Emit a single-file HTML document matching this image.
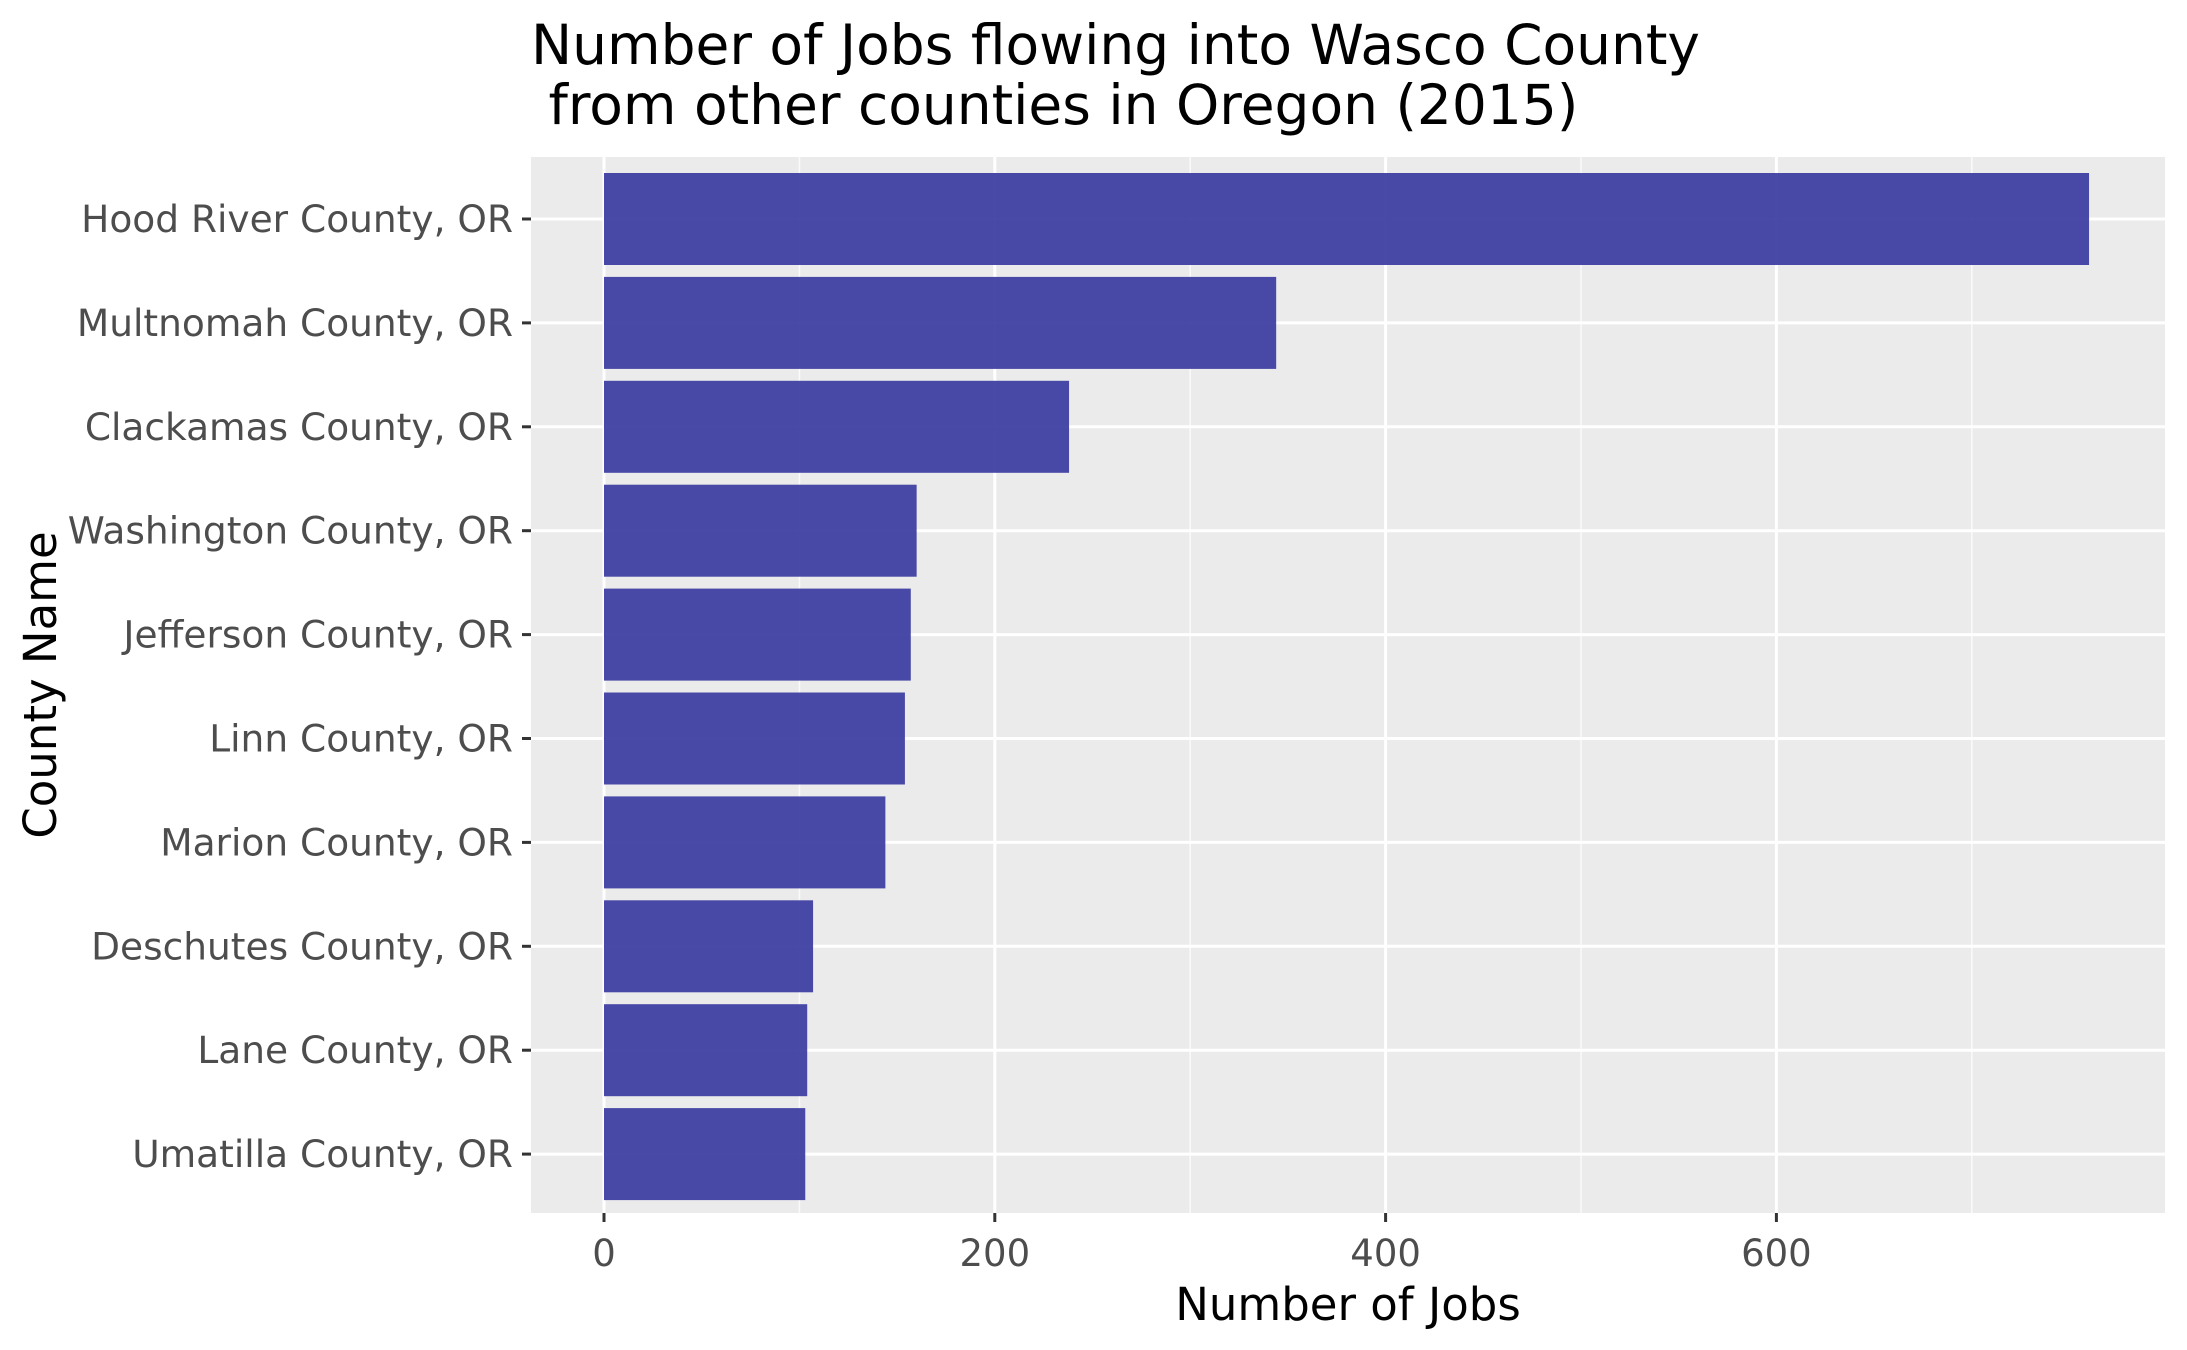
<!DOCTYPE html>
<html><head><meta charset="utf-8"><style>
body{margin:0;background:#fff}
svg{display:block;font-family:"DejaVu Sans","Liberation Sans",sans-serif}
</style></head><body>
<svg id="chart" width="2187" height="1350" xmlns="http://www.w3.org/2000/svg">
<text x="531" y="64" font-size="55" fill="#000">Number of Jobs flowing into Wasco County</text>
<text x="531" y="124" font-size="55" fill="#000" xml:space="preserve"> from other counties in Oregon (2015)</text>
<rect x="531" y="157" width="1634" height="1056" fill="#ebebeb"/>
<g id="grid"></g><g id="bars"></g><g id="axes"></g>
<text x="1348" y="1320" font-size="45" text-anchor="middle" fill="#000">Number of Jobs</text>
<text transform="translate(56,685) rotate(-90)" font-size="45" text-anchor="middle" fill="#000">County Name</text>
</svg>
<script>
const categories=["Hood River County, OR","Multnomah County, OR","Clackamas County, OR","Washington County, OR","Jefferson County, OR","Linn County, OR","Marion County, OR","Deschutes County, OR","Lane County, OR","Umatilla County, OR"];
const values=[760,344,238,160,157,154,144,107,104,103];
const xTicks=[0,200,400,600];
const xMinor=[100,300,500,700];
const NS="http://www.w3.org/2000/svg";
const x0=604,kx=1.954,yTop=219,step=103.9,bh=92;
const X=v=>x0+v*kx;
const Y=i=>yTop+i*step;
function mk(tag,at,parent){const e=document.createElementNS(NS,tag);for(const k in at)e.setAttribute(k,at[k]);parent.appendChild(e);return e;}
const grid=document.getElementById('grid'),bars=document.getElementById('bars'),axes=document.getElementById('axes');
xMinor.forEach(v=>{const l=mk('line',{x1:X(v),x2:X(v),y1:157,y2:1213,stroke:'#fafafa','stroke-width':1.5},grid);

});
xTicks.forEach(v=>{const l=mk('line',{x1:X(v),x2:X(v),y1:157,y2:1213,stroke:'#fff','stroke-width':3},grid);


const t=mk('line',{x1:X(v),x2:X(v),y1:1213,y2:1222,stroke:'#333','stroke-width':3},axes);


const tx=mk('text',{x:X(v),y:1266,'font-size':37,'text-anchor':'middle',fill:'#4d4d4d'},axes);tx.textContent=v;

});
categories.forEach((c,i)=>{const y=Y(i);
const g=mk('line',{x1:531,x2:2165,y1:y,y2:y,stroke:'#fff','stroke-width':3},grid);


const b=mk('rect',{x:X(0),y:y-bh/2,width:X(values[i])-X(0),height:bh,fill:'#3a3aa0','fill-opacity':0.92},bars);


const t=mk('line',{x1:522,x2:531,y1:y,y2:y,stroke:'#333','stroke-width':3},axes);


const tx=mk('text',{x:513,y:y+13,'font-size':37.5,'text-anchor':'end',fill:'#4d4d4d'},axes);tx.textContent=c;

});
</script>
</body></html>
